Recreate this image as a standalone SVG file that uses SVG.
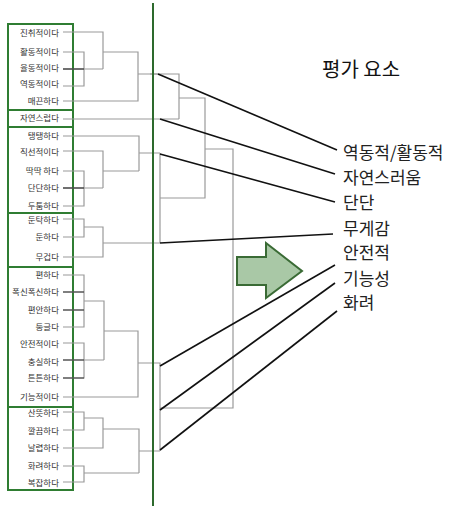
<svg xmlns="http://www.w3.org/2000/svg" width="452" height="506" viewBox="0 0 452 506">
<style>
.lbl{font-family:"Noto Sans CJK KR","Noto Sans",sans-serif;font-size:8.5px;fill:#333;text-anchor:end}
.rl{font-family:"Noto Sans CJK KR","Noto Sans",sans-serif;font-size:17px;fill:#222}
.title{font-family:"Noto Sans CJK KR","Noto Sans",sans-serif;font-size:20px;fill:#111;font-weight:normal}
.box{fill:none;stroke:#2f7d32;stroke-width:2}
.den{fill:none;stroke:#9a9a9a;stroke-width:1.2}
.dk{fill:none;stroke:#333;stroke-width:1.2}
.con{fill:none;stroke:#111;stroke-width:1.6}
</style>
<rect width="452" height="506" fill="#fff"/>
<g id="boxes">
<rect class="box" x="8" y="24" width="65" height="86"/>
<rect class="box" x="8" y="110" width="65" height="17"/>
<rect class="box" x="8" y="127" width="65" height="86"/>
<rect class="box" x="8" y="213" width="65" height="54"/>
<rect class="box" x="8" y="267" width="65" height="140"/>
<rect class="box" x="8" y="407" width="65" height="83"/>
</g>
<g id="labels">
<text class="lbl" x="59" y="36">진취적이다</text>
<text class="lbl" x="59" y="55">활동적이다</text>
<text class="lbl" x="59" y="71">율동적이다</text>
<text class="lbl" x="59" y="87">역동적이다</text>
<text class="lbl" x="59" y="104">매끈하다</text>
<text class="lbl" x="59" y="121">자연스럽다</text>
<text class="lbl" x="59" y="139">탱탱하다</text>
<text class="lbl" x="59" y="155">직선적이다</text>
<text class="lbl" x="59" y="174">딱딱 하다</text>
<text class="lbl" x="59" y="191">단단하다</text>
<text class="lbl" x="59" y="209">두툼하다</text>
<text class="lbl" x="59" y="223">둔탁하다</text>
<text class="lbl" x="59" y="240">둔하다</text>
<text class="lbl" x="59" y="260">무겁다</text>
<text class="lbl" x="59" y="278">편하다</text>
<text class="lbl" x="59" y="295">폭신폭신하다</text>
<text class="lbl" x="59" y="313">편안하다</text>
<text class="lbl" x="59" y="330">둥글다</text>
<text class="lbl" x="59" y="347">안전적이다</text>
<text class="lbl" x="59" y="365">충실하다</text>
<text class="lbl" x="59" y="381">튼튼하다</text>
<text class="lbl" x="59" y="400">기능적이다</text>
<text class="lbl" x="59" y="416">산뜻하다</text>
<text class="lbl" x="59" y="434">깔끔하다</text>
<text class="lbl" x="59" y="451">날렵하다</text>
<text class="lbl" x="59" y="469">화려하다</text>
<text class="lbl" x="59" y="486">복잡하다</text>
</g>
<g id="dendrogram">
<path class="den" d="M63 52H84V86H63M63 69H103M63 32H103V69M103 52H138V101H63M138 74H158"/>
<path class="dk" d="M63 69H84"/>
<path class="den" d="M63 119H179M150 74H179V119M179 98H205V198H160M205 149H233V408H160"/>
<path class="den" d="M63 136H139V171M63 151H103V188M63 171H84V206H63M63 188H103M103 171H139M139 153H160"/>
<path class="dk" d="M63 188H84"/>
<path class="den" d="M63 219H84V237H63M84 227H103V257H63M103 243H160M160 153V243"/>
<path class="den" d="M63 275H84V327H63M63 292H84M63 310H84M84 301H104V360M63 343H84V378H63M63 360H104M104 331H138V397H63M138 363H160V451"/>
<path class="dk" d="M63 292H84M63 310H84M63 360H84M63 378H84"/>
<path class="den" d="M63 412H84V430H63M84 418H103V448H63M103 429H139V473M63 466H84V482H63M84 473H139M139 451H160"/>
</g>
<g id="mainline">
<line x1="153" y1="3" x2="153" y2="506" stroke="#2d6a2d" stroke-width="2"/>
</g>
<g id="connectors">
<line class="con" x1="158" y1="74" x2="337" y2="150"/>
<line class="con" x1="160" y1="119" x2="335" y2="174"/>
<line class="con" x1="160" y1="154" x2="335" y2="202"/>
<line class="con" x1="160" y1="243" x2="333" y2="234"/>
<line class="con" x1="160" y1="366" x2="335" y2="265"/>
<line class="con" x1="160" y1="410" x2="335" y2="283"/>
<line class="con" x1="160" y1="450" x2="337" y2="311"/>
</g>
<g id="arrow">
<polygon points="237,257 266,257 266,243 302,271 266,298 266,285 237,285" fill="#a9c8a6" stroke="#3a6b35" stroke-width="2" stroke-linejoin="miter"/>
</g>
<g id="title">
<text class="title" x="322" y="77">평가 요소</text>
</g>
<g id="right-labels">
<text class="rl" x="343" y="159">역동적/활동적</text>
<text class="rl" x="343" y="184">자연스러움</text>
<text class="rl" x="343" y="209">단단</text>
<text class="rl" x="343" y="235">무게감</text>
<text class="rl" x="343" y="259">안전적</text>
<text class="rl" x="343" y="285">기능성</text>
<text class="rl" x="343" y="309">화려</text>
</g>
</svg>
